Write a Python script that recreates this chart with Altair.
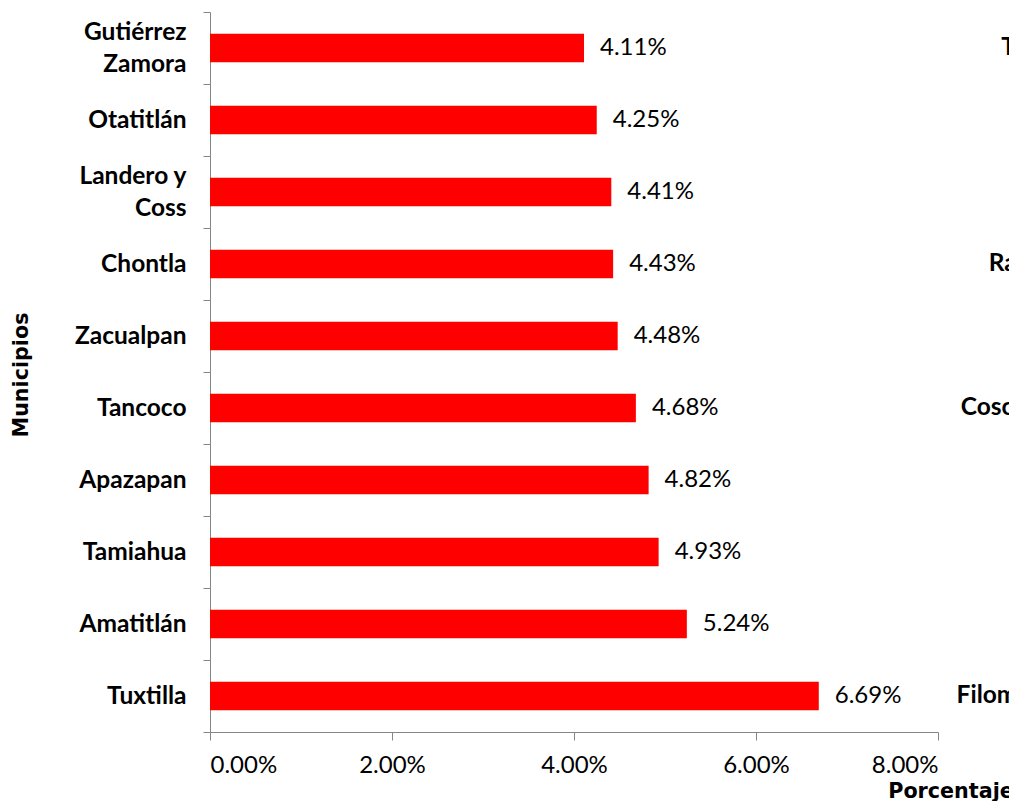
import altair as alt
import pandas as pd

categories = ["Gutiérrez\nZamora", "Otatitlán", "Landero y\nCoss", "Chontla", "Zacualpan",
              "Tancoco", "Apazapan", "Tamiahua", "Amatitlán", "Tuxtilla"]
values = [0.0411, 0.0425, 0.0441, 0.0443, 0.0448, 0.0468, 0.0482, 0.0493, 0.0524, 0.0669]
# labels of the neighbouring panel, cut off by the page edge
right_labels = ["Tepetzintla", "", "", "Rafael Lucio", "", "Coscomatepec", "", "", "", "Filomeno Mata"]
x_ticks = [0.0, 0.02, 0.04, 0.06, 0.08]

df = pd.DataFrame({"Municipio": categories, "Valor": values, "Derecha": right_labels})

AXIS_GREY = "#868686"
NB = "\u00a0"
BLANK = "\u2800"
# two-line labels: second line centred under the first; blank half-lines keep every
# label block vertically centred on its band
label_expr = (
    "indexof(datum.label, '\\n') >= 0 ? "
    "split(replace(replace(replace(datum.label, '\\nZamora', '\\nZamora" + NB * 2 + "'), "
    "'\\nCoss', '\\nCoss" + NB * 6 + "'), '\\n', '\\n" + BLANK + "\\n'), '\\n') : ['" + BLANK + "', datum.label]"
)

x_enc = alt.X(
    "Valor:Q",
    scale=alt.Scale(domain=[0, 0.08], nice=False, zero=True),
    axis=alt.Axis(
        values=x_ticks, format=".2%", title="Porcentaje", grid=False,
        tickSize=8, labelPadding=32, labelBaseline="alphabetic",
        labelFont="Lato", labelFontSize=24, labelColor="black",
        titleFont="DejaVu Sans", titleFontWeight="bold", titleFontSize=20.7, titleColor="black",
        titleX=740.5, titleY=65, titleAlign="center", titleBaseline="alphabetic",
    ),
)
y_enc = alt.Y(
    "Municipio:N",
    sort=categories,
    scale=alt.Scale(paddingInner=0, paddingOuter=0),
    axis=alt.Axis(
        title="Municipios", tickBand="extent", tickSize=7, labelPadding=17,
        labelBaseline="alphabetic", labelOffset=-8.6,
        labelExpr=label_expr, labelLineHeight=16,
        labelFont="Lato", labelFontWeight="bold", labelFontSize=24.5, labelColor="black",
        titleFont="DejaVu Sans", titleFontWeight="bold", titleFontSize=20.7, titleColor="black",
        titleX=-183, titleY=362.5, titleAlign="center", titleBaseline="alphabetic", titleAngle=270,
    ),
)

base = alt.Chart(df)
bars = base.mark_bar(color="#FF0000", size=28.3).encode(x=x_enc, y=y_enc)
vals = base.mark_text(align="left", dx=16, font="Lato", fontSize=24, color="black").encode(
    x=alt.X("Valor:Q"), y=alt.Y("Municipio:N", sort=categories),
    text=alt.Text("Valor:Q", format=".2%"),
)
neighbour = base.mark_text(align="right", font="Lato", fontWeight="bold", fontSize=24.5, color="black").encode(
    x=alt.datum(0.1001), y=alt.Y("Municipio:N", sort=categories), text="Derecha:N",
)

chart = alt.layer(bars, vals, neighbour).properties(
    width=728, height=720,
    autosize=alt.AutoSizeParams(type="none"),
    padding={"left": 202, "top": 4, "right": 71, "bottom": 69},
).configure_view(stroke=None).configure_axis(
    domainColor=AXIS_GREY, tickColor=AXIS_GREY, domainWidth=1, tickWidth=1,
)

chart.save("out.html", embed_options={"renderer": "svg", "actions": False})
